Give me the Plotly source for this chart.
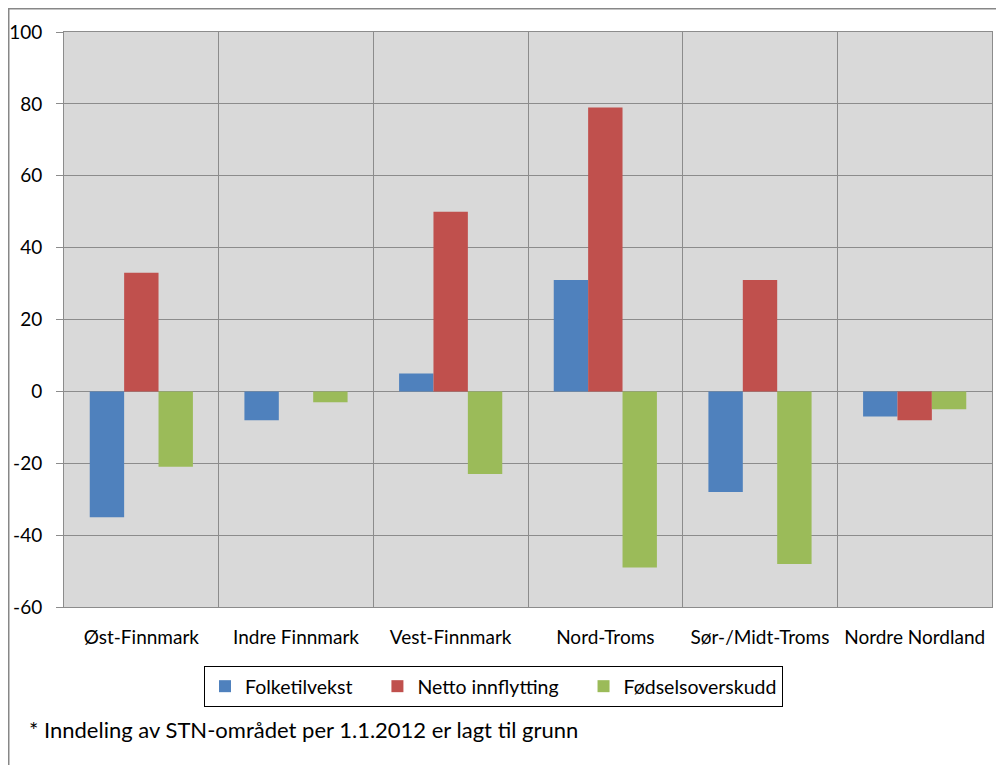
import plotly.graph_objects as go

categories = ["Øst-Finnmark", "Indre Finnmark", "Vest-Finnmark", "Nord-Troms",
              "Sør-/Midt-Troms", "Nordre Nordland"]
folketilvekst = [-35, -8, 5, 31, -28, -7]
netto_innflytting = [33, 0, 50, 79, 31, -8]
fodselsoverskudd = [-21, -3, -23, -49, -48, -5]
y_ticks = [-60, -40, -20, 0, 20, 40, 60, 80, 100]
y_tick_labels = ["-60", "-40", "-20", "0", "20", "40", "60", "80", "100"]
series_names = ["Folketilvekst", "Netto innflytting", "Fødselsoverskudd"]

NB = "\u00a0"
series = [
    (series_names[0] + NB * 4, folketilvekst, "#4F81BD"),
    (series_names[1] + NB * 4, netto_innflytting, "#C0504D"),
    (series_names[2], fodselsoverskudd, "#9BBB59"),
]

FONT = "Lato"
GRID = "#8C8C8C"

fig = go.Figure()
for name, vals, col in series:
    fig.add_trace(go.Bar(x=categories, y=vals, name=name, marker_color=col,
                         marker_line_width=0))

# page body has an 8px margin; figure placed at (8, 8) in the viewport
OFF = 8
W, H = 1004 - OFF, 765 - OFF
L, R, T, B = 64 - OFF, 12, 32 - OFF, 158
pw, ph = W - L - R, H - T - B


def px_x(vx):
    return (vx - OFF - L) / pw


def px_y(vy):
    return (H - B - (vy - OFF)) / ph


fig.update_layout(
    width=W, height=H,
    margin=dict(l=L, r=R, t=T, b=B, autoexpand=False),
    paper_bgcolor="white",
    plot_bgcolor="#D9D9D9",
    barmode="group",
    bargap=0.333,
    bargroupgap=0,
    font=dict(family=FONT, size=17, color="#000000"),
    showlegend=True,
    legend=dict(
        orientation="h",
        x=px_x(493.5), xanchor="center",
        y=px_y(666), yanchor="top",
        bordercolor="#000000", borderwidth=1,
        font=dict(family=FONT, size=19.5),
        itemwidth=30,
        bgcolor="white",
    ),
    xaxis=dict(
        type="category",
        tickson="boundaries",
        showgrid=True, gridcolor=GRID, gridwidth=1,
        showline=True, linecolor=GRID, linewidth=1, mirror=True,
        ticks="", ticklabelstandoff=13, automargin=False,
        tickfont=dict(family=FONT, size=19),
    ),
    yaxis=dict(
        range=[-60, 100], tickvals=y_ticks, ticktext=y_tick_labels,
        showgrid=True, gridcolor=GRID, gridwidth=1,
        zeroline=True, zerolinecolor=GRID, zerolinewidth=1,
        showline=True, linecolor=GRID, linewidth=1, mirror=True,
        ticks="outside", ticklen=7, tickcolor=GRID,
        ticklabelstandoff=10, automargin=False,
        tickfont=dict(family=FONT, size=19),
    ),
    shapes=[dict(
        type="rect", xref="paper", yref="paper",
        x0=(0.5 - L) / pw, x1=(W + 10 - L) / pw,
        y0=-(B + 10) / ph, y1=1 + (T - 0.5) / ph,
        line=dict(color="#878787", width=2), fillcolor="rgba(0,0,0,0)",
        layer="below",
    )],
    annotations=[dict(
        text="* Inndeling av STN-området per 1.1.2012 er lagt til grunn",
        xref="paper", yref="paper",
        x=px_x(27), xanchor="left",
        y=px_y(729), yanchor="middle",
        showarrow=False, font=dict(family=FONT, size=22),
    )],
)

fig.write_html("out.html")
